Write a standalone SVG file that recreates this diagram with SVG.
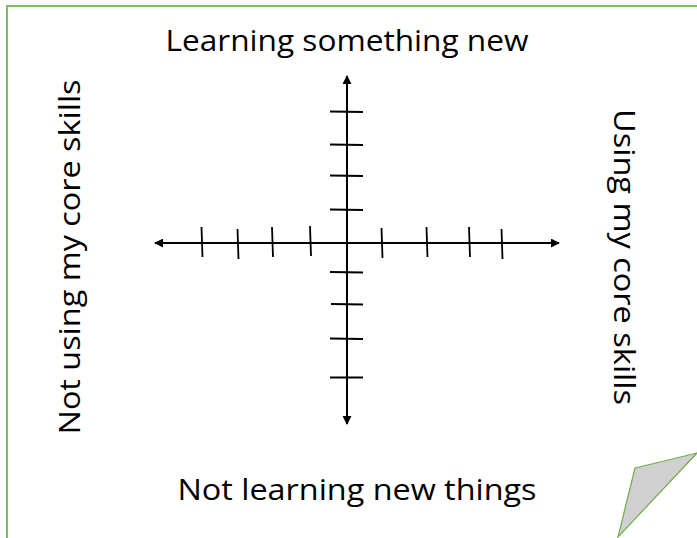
<svg xmlns="http://www.w3.org/2000/svg" width="697" height="538" viewBox="0 0 697 538">
<defs>
<style>
.lbl{font-family:"Open Sans","Liberation Sans",sans-serif;font-size:28.5px;fill:#000;}
.ax{stroke:#000;stroke-width:2;fill:none;}
.tk{stroke:#000;stroke-width:1.8;fill:none;}
</style>
<marker id="ah" viewBox="0 0 10 10" refX="9" refY="5" markerWidth="4.5" markerHeight="4.5" markerUnits="strokeWidth" orient="auto-start-reverse">
<path d="M0,0 L10,5 L0,10 z" fill="#000"/>
</marker>
</defs>
<rect width="697" height="538" fill="#fff"/>
<g id="frame">
<path d="M7,538 L7,6 L697,6" fill="none" stroke="#7CBF5A" stroke-width="2"/>
</g>
<g id="fold">
<polygon points="635,468 697,453 618,537" fill="#D0D0D0" stroke="#70AD47" stroke-width="1.2"/>
</g>
<g id="connectors">
<line class="ax" x1="347" y1="76" x2="347" y2="424" marker-start="url(#ah)" marker-end="url(#ah)"/>
<line class="ax" x1="155" y1="243" x2="559" y2="243" marker-start="url(#ah)" marker-end="url(#ah)"/>
<g id="yticks">
<line class="tk" x1="330" y1="111.5" x2="363" y2="112"/>
<line class="tk" x1="330" y1="144.5" x2="363" y2="145"/>
<line class="tk" x1="330" y1="175.5" x2="363" y2="176"/>
<line class="tk" x1="330" y1="209.5" x2="363" y2="210"/>
<line class="tk" x1="330" y1="272" x2="363" y2="272.5"/>
<line class="tk" x1="331" y1="304" x2="363" y2="304.5"/>
<line class="tk" x1="330" y1="338.5" x2="363" y2="339"/>
<line class="tk" x1="330" y1="377.5" x2="363" y2="377.5"/>
</g>
<g id="xticks">
<line class="tk" x1="201.5" y1="227" x2="202.5" y2="257"/>
<line class="tk" x1="237.5" y1="229" x2="238.5" y2="259"/>
<line class="tk" x1="272" y1="227" x2="273" y2="257"/>
<line class="tk" x1="310" y1="226" x2="311" y2="256"/>
<line class="tk" x1="381.5" y1="228" x2="382.5" y2="258"/>
<line class="tk" x1="426.5" y1="227" x2="427.5" y2="257"/>
<line class="tk" x1="469" y1="227" x2="470" y2="257"/>
<line class="tk" x1="501.5" y1="229" x2="502.5" y2="259"/>
</g>
</g>
<g id="top-label"><text class="lbl" x="347" y="51" text-anchor="middle" textLength="363" lengthAdjust="spacingAndGlyphs">Learning something new</text></g>
<g id="bottom-label"><text class="lbl" x="357" y="500" text-anchor="middle" textLength="359" lengthAdjust="spacingAndGlyphs">Not learning new things</text></g>
<g id="left-label"><text class="lbl" transform="translate(80,257) rotate(-90)" x="0" y="0" text-anchor="middle" textLength="355" lengthAdjust="spacingAndGlyphs">Not using my core skills</text></g>
<g id="right-label"><text class="lbl" transform="translate(614,257) rotate(90)" x="0" y="0" text-anchor="middle" textLength="296" lengthAdjust="spacingAndGlyphs">Using my core skills</text></g>
</svg>
